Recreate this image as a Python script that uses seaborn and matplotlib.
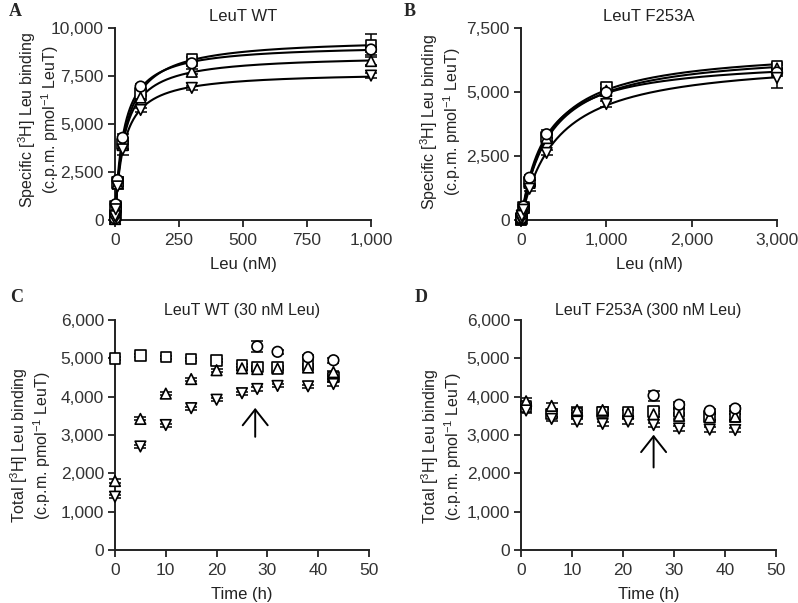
import numpy as np
import pandas as pd
import matplotlib
matplotlib.use("Agg")
import matplotlib.pyplot as plt
from matplotlib.ticker import FuncFormatter, MultipleLocator
import seaborn as sns

sns.set_theme(style="ticks")
plt.rcParams["font.family"] = ["Liberation Sans", "DejaVu Sans"]
plt.rcParams["mathtext.default"] = "regular"

# ---- data ----
# A: LeuT WT saturation binding
leu_wt = [0.3, 1, 3, 10, 30, 100, 300, 1000]
wt_square = [60, 260, 700, 1950, 3950, 6600, 8380, 9120]
wt_up = [50, 230, 650, 1900, 3900, 6380, 7720, 8280]
wt_circle = [80, 300, 820, 2080, 4280, 6950, 8160, 8880]
wt_down = [40, 200, 560, 1750, 3680, 5730, 6880, 7520]
wt_square_err = [30, 60, 80, 200, 300, 150, 120, 550]
wt_up_err = [30, 50, 80, 150, 200, 150, 120, 200]
wt_circle_err = [30, 50, 80, 150, 200, 120, 120, 150]
wt_down_err = [30, 50, 80, 150, 300, 120, 100, 150]

# B: LeuT F253A saturation binding
leu_f253a = [1, 3, 10, 30, 100, 300, 1000, 3000]
fa_square = [20, 60, 190, 480, 1480, 3250, 5200, 6000]
fa_up = [20, 60, 190, 470, 1450, 3200, 5050, 5920]
fa_circle = [20, 60, 200, 530, 1650, 3350, 4980, 5760]
fa_down = [15, 50, 160, 400, 1220, 2620, 4530, 5550]
fa_square_err = [20, 30, 50, 80, 100, 150, 120, 120]
fa_up_err = [20, 30, 50, 80, 100, 150, 120, 120]
fa_circle_err = [20, 30, 50, 80, 100, 150, 120, 150]
fa_down_err = [20, 30, 50, 80, 100, 100, 120, 380]

# C: LeuT WT time course (30 nM Leu)
time_c = [0, 5, 10, 15, 20, 25, 28, 32, 38, 43]
c_square = [5000, 5070, 5030, 4980, 4940, 4820, 4770, 4760, 4820, 4510]
c_up = [1800, 3420, 4080, 4460, 4690, 4740, 4720, 4730, 4760, 4640]
c_down = [1390, 2700, 3260, 3700, 3920, 4090, 4200, 4280, 4270, 4330]
time_c_circle = [28, 32, 38, 43]
c_circle = [5310, 5170, 5030, 4950]
c_circle_err = [150, 60, 60, 60]

# D: LeuT F253A time course (300 nM Leu)
time_d = [1, 6, 11, 16, 21, 26, 31, 37, 42]
d_square = [3750, 3550, 3570, 3600, 3580, 3620, 3600, 3480, 3480]
d_up = [3880, 3760, 3650, 3650, 3570, 3540, 3500, 3460, 3480]
d_down = [3640, 3420, 3350, 3290, 3350, 3260, 3170, 3140, 3130]
time_d_circle = [26, 31, 37, 42]
d_circle = [4030, 3790, 3630, 3690]
d_circle_err = [130, 80, 60, 60]

markers = {"square": "s", "up": "^", "circle": "o", "down": "v"}


def one_site(x, y):
    # least-squares one-site hyperbola, grid over Kd
    x = np.asarray(x, float)
    y = np.asarray(y, float)
    best = None
    for kd in np.linspace(1, 3000, 6000):
        f = x / (kd + x)
        bmax = (f @ y) / (f @ f)
        sse = ((y - bmax * f) ** 2).sum()
        if best is None or sse < best[0]:
            best = (sse, bmax, kd)
    return best[1], best[2]


def draw_points(ax, frames):
    df = pd.concat(frames, ignore_index=True)
    for _, g in df.groupby("series"):
        ax.errorbar(g["x"], g["y"], yerr=g["err"], fmt="none", ecolor="black",
                    elinewidth=1.1, capsize=4, capthick=1.1, zorder=2, clip_on=False)
    sns.scatterplot(data=df, x="x", y="y", style="series", markers=markers,
                    color="white", edgecolor="black", linewidth=1.2, s=58,
                    legend=False, ax=ax, zorder=4, clip_on=False)


def frame(x, y, err, name):
    if np.isscalar(err):
        err = [err] * len(x)
    return pd.DataFrame({"x": x, "y": y, "err": err, "series": name})


def style_axes(ax, xmax, xstep, ymax, ystep, title, xlabel, ylabel, tsize, tpad, ylab_xy):
    ax.set_xlim(0, xmax)
    ax.set_ylim(0, ymax)
    ax.xaxis.set_major_locator(MultipleLocator(xstep))
    ax.yaxis.set_major_locator(MultipleLocator(ystep))
    fmt = FuncFormatter(lambda v, p: f"{v:,.0f}")
    ax.xaxis.set_major_formatter(fmt)
    ax.yaxis.set_major_formatter(fmt)
    sns.despine(ax=ax)
    for s in ("left", "bottom"):
        ax.spines[s].set_linewidth(1.4)
        ax.spines[s].set_color("#222222")
    ax.tick_params(direction="out", length=5, width=1.3, labelsize=12.5,
                   color="#222222", labelcolor="#333333")
    ax.tick_params(axis="x", pad=4.5)
    ax.tick_params(axis="y", pad=3)
    ax.set_title(title, fontsize=tsize, pad=tpad, color="#222222")
    ax.set_xlabel(xlabel, fontsize=12, labelpad=6, color="#222222")
    ax.set_ylabel(ylabel, fontsize=11.5, color="#222222", linespacing=1.05)
    ax.yaxis.set_label_coords(*ylab_xy)


fig = plt.figure(figsize=(7.98, 6.03), dpi=100)
W, H = 798, 603


def add_ax(left, right, top, bottom):
    return fig.add_axes([left / W, 1 - bottom / H, (right - left) / W, (bottom - top) / H])


ax_a = add_ax(115, 371, 28, 220)
ax_b = add_ax(521, 777, 28, 220)
ax_c = add_ax(115, 369, 320, 550)
ax_d = add_ax(521, 776, 320, 550)

spec_label = "Specific [$^{3}$H] Leu binding\n(c.p.m. pmol$^{-1}$ LeuT)"
total_label = "Total [$^{3}$H] Leu binding\n(c.p.m. pmol$^{-1}$ LeuT)"

# panel A
sets_a = [(wt_square, wt_square_err, "square"), (wt_up, wt_up_err, "up"),
          (wt_circle, wt_circle_err, "circle"), (wt_down, wt_down_err, "down")]
xs = np.linspace(0, 1000, 500)
for y, e, n in sets_a:
    bmax, kd = one_site(leu_wt, y)
    sns.lineplot(x=xs, y=bmax * xs / (kd + xs), color="black", linewidth=1.5, ax=ax_a, zorder=3)
draw_points(ax_a, [frame(leu_wt, y, e, n) for y, e, n in sets_a])
style_axes(ax_a, 1000, 250, 10000, 2500, "LeuT WT", "Leu (nM)", spec_label, 12, 5, (-0.211, 0.52))

# panel B
sets_b = [(fa_square, fa_square_err, "square"), (fa_up, fa_up_err, "up"),
          (fa_circle, fa_circle_err, "circle"), (fa_down, fa_down_err, "down")]
xs = np.linspace(0, 3000, 500)
for y, e, n in sets_b:
    bmax, kd = one_site(leu_f253a, y)
    sns.lineplot(x=xs, y=bmax * xs / (kd + xs), color="black", linewidth=1.5, ax=ax_b, zorder=3)
draw_points(ax_b, [frame(leu_f253a, y, e, n) for y, e, n in sets_b])
style_axes(ax_b, 3000, 1000, 7500, 2500, "LeuT F253A", "Leu (nM)", spec_label, 12, 5, (-0.228, 0.51))

# panel C
draw_points(ax_c, [frame(time_c, c_square, 40, "square"), frame(time_c, c_up, 40, "up"),
                   frame(time_c, c_down, 40, "down"),
                   frame(time_c_circle, c_circle, c_circle_err, "circle")])
style_axes(ax_c, 50, 10, 6000, 1000, "LeuT WT (30 nM Leu)", "Time (h)", total_label, 11.5, 3.5,
           (-0.245, 0.455))
ax_c.annotate("", xy=(27.6, 3780), xytext=(27.6, 2880),
              arrowprops=dict(arrowstyle="->,head_width=0.75,head_length=0.95", lw=1.4, color="black"))

# panel D
draw_points(ax_d, [frame(time_d, d_square, 80, "square"), frame(time_d, d_up, 80, "up"),
                   frame(time_d, d_down, 60, "down"),
                   frame(time_d_circle, d_circle, d_circle_err, "circle")])
style_axes(ax_d, 50, 10, 6000, 1000, "LeuT F253A (300 nM Leu)", "Time (h)", total_label, 11.5, 3.5,
           (-0.224, 0.45))
ax_d.annotate("", xy=(26, 3080), xytext=(26, 2080),
              arrowprops=dict(arrowstyle="->,head_width=0.75,head_length=0.95", lw=1.4, color="black"))

# panel letters
for lab, px, py in [("A", 15, 12), ("B", 410, 12), ("C", 17, 297), ("D", 421, 297)]:
    fig.text(px / W, 1 - py / H, lab, fontsize=13, fontweight="bold",
             family=["Liberation Serif", "DejaVu Serif"], ha="center", va="center")

fig.savefig("out.png", dpi=100)
